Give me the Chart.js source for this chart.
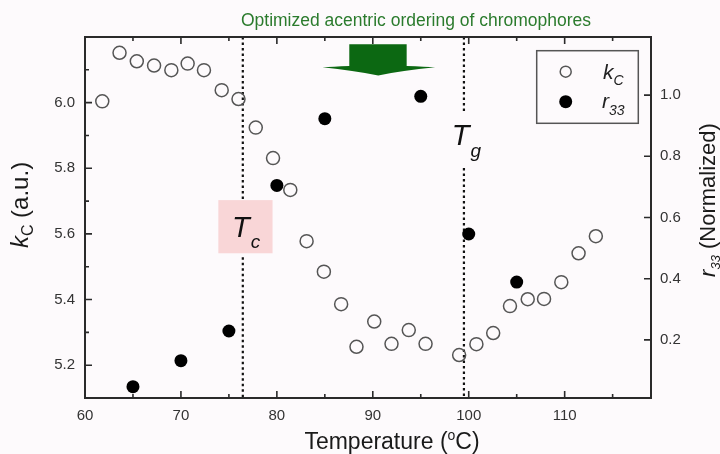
<!DOCTYPE html>
<html>
<head>
<meta charset="utf-8">
<script src="https://cdn.jsdelivr.net/npm/chart.js@4"></script>
<style>
html,body{margin:0;padding:0;background:#fdfafc;}
#wrap{width:720px;height:454px;position:relative;}
</style>
</head>
<body>
<div id="wrap"><canvas id="c"></canvas></div>
<script>
// ---- data ----
const kcTemp = [61.8,63.6,65.4,67.2,69.0,70.7,72.4,74.25,76.0,77.8,79.6,81.4,83.1,84.9,86.7,88.3,90.15,91.95,93.75,95.5,99.0,100.8,102.55,104.3,106.15,107.85,109.65,111.45,113.25];
const kcValue = [6.004,6.152,6.126,6.113,6.099,6.119,6.099,6.038,6.011,5.924,5.831,5.734,5.578,5.485,5.386,5.256,5.333,5.265,5.307,5.265,5.231,5.264,5.298,5.380,5.401,5.402,5.453,5.541,5.593];
const r33Temp = [65,70,75,80,85,95,100,105];
const r33Value = [0.047,0.132,0.229,0.705,0.923,0.996,0.546,0.389];
const xMajorTicks = [60,70,80,90,100,110];
const xMinorTicks = [65,75,85,95,105,115];
const kMajorTicks = [5.2,5.4,5.6,5.8,6.0];
const kMinorTicks = [5.3,5.5,5.7,5.9,6.1];
const rMajorTicks = [0.2,0.4,0.6,0.8,1.0];
const Tc = 76.45, Tg = 99.5;
const titleText = 'Optimized acentric ordering of chromophores';

const FONT = '"Liberation Sans", Arial, sans-serif';

function drawSegs(ctx, segs, x, y, align){
  let w = 0;
  segs.forEach(s => { ctx.font = s.f; s.w = ctx.measureText(s.t).width + (s.gap||0); w += s.w; });
  let cx = align === 'center' ? x - w/2 : (align === 'right' ? x - w : x);
  ctx.textAlign = 'left'; ctx.textBaseline = 'alphabetic';
  segs.forEach(s => { ctx.font = s.f; ctx.fillText(s.t, cx, y + (s.dy||0)); cx += s.w; });
}

const decor = {
  id: 'decor',
  beforeDraw(chart){
    const ctx = chart.ctx;
    ctx.save();
    ctx.fillStyle = '#fdfafc';
    ctx.fillRect(0,0,chart.width,chart.height);
    ctx.restore();
  },
  beforeDatasetsDraw(chart){
    const {ctx, chartArea:a, scales} = chart;
    const X = scales.x, Y = scales.y;
    ctx.save();
    // dotted lines
    ctx.strokeStyle = '#111'; ctx.lineWidth = 2.2; ctx.setLineDash([2.5,3]);
    const xc = X.getPixelForValue(Tc), xg = X.getPixelForValue(Tg);
    const boxTop = Y.getPixelForValue(5.703), boxBot = Y.getPixelForValue(5.541);
    ctx.beginPath();
    ctx.moveTo(xc, a.top); ctx.lineTo(xc, boxTop+2);
    ctx.moveTo(xc, boxBot+4); ctx.lineTo(xc, a.bottom);
    ctx.moveTo(xg, a.top); ctx.lineTo(xg, Y.getPixelForValue(5.971));
    ctx.moveTo(xg, Y.getPixelForValue(5.801)); ctx.lineTo(xg, a.bottom);
    ctx.stroke();
    ctx.setLineDash([]);
    // Tc box
    const bx0 = X.getPixelForValue(73.9), bx1 = X.getPixelForValue(79.55);
    ctx.fillStyle = '#f9d6d7';
    ctx.fillRect(bx0, boxTop, bx1-bx0, boxBot-boxTop);
    ctx.fillStyle = '#111';
    drawSegs(ctx, [{t:'T', f:'italic 29px '+FONT, gap:1},{t:'c', f:'italic 19px '+FONT, dy:11}], X.getPixelForValue(76.8), Y.getPixelForValue(5.592), 'center');
    drawSegs(ctx, [{t:'T', f:'italic 29px '+FONT, gap:1},{t:'g', f:'italic 19px '+FONT, dy:12}], X.getPixelForValue(99.75), Y.getPixelForValue(5.871), 'center');
    // arrow
    ctx.fillStyle = '#0c6812';
    ctx.beginPath();
    ctx.moveTo(X.getPixelForValue(87.55), Y.getPixelForValue(6.178));
    ctx.lineTo(X.getPixelForValue(93.53), Y.getPixelForValue(6.178));
    ctx.lineTo(X.getPixelForValue(93.53), Y.getPixelForValue(6.112));
    ctx.quadraticCurveTo(X.getPixelForValue(95.5), Y.getPixelForValue(6.110), X.getPixelForValue(96.5), Y.getPixelForValue(6.108));
    ctx.quadraticCurveTo(X.getPixelForValue(93.0), Y.getPixelForValue(6.098), X.getPixelForValue(90.57), Y.getPixelForValue(6.083));
    ctx.quadraticCurveTo(X.getPixelForValue(88.0), Y.getPixelForValue(6.098), X.getPixelForValue(84.75), Y.getPixelForValue(6.108));
    ctx.quadraticCurveTo(X.getPixelForValue(85.8), Y.getPixelForValue(6.110), X.getPixelForValue(87.55), Y.getPixelForValue(6.112));
    ctx.closePath();
    ctx.fill();
    ctx.restore();
  },
  afterDraw(chart){
    const {ctx, chartArea:a, scales} = chart;
    const X = scales.x, Y = scales.y, Y2 = scales.y2;
    ctx.save();
    // frame
    ctx.strokeStyle = '#2a2a2a'; ctx.lineWidth = 2;
    ctx.strokeRect(a.left, a.top, a.right-a.left, a.bottom-a.top);
    // inward ticks
    ctx.lineWidth = 1.6;
    ctx.beginPath();
    const tickX = (vals, len) => vals.forEach(v => { const p = X.getPixelForValue(v);
      ctx.moveTo(p, a.bottom); ctx.lineTo(p, a.bottom-len);
      ctx.moveTo(p, a.top); ctx.lineTo(p, a.top+len); });
    tickX(xMajorTicks.filter(v=>v>60), 7); tickX(xMinorTicks, 4);
    kMajorTicks.forEach(v => { const p = Y.getPixelForValue(v); ctx.moveTo(a.left,p); ctx.lineTo(a.left+7,p); });
    kMinorTicks.forEach(v => { const p = Y.getPixelForValue(v); ctx.moveTo(a.left,p); ctx.lineTo(a.left+4,p); });
    rMajorTicks.forEach(v => { const p = Y2.getPixelForValue(v); ctx.moveTo(a.right,p); ctx.lineTo(a.right-7,p); });
    ctx.stroke();
    // title
    ctx.fillStyle = '#2b7b2d';
    ctx.font = '17.5px ' + FONT; ctx.textAlign = 'center'; ctx.textBaseline = 'alphabetic';
    ctx.fillText(titleText, 416, 26);
    // bottom axis title
    ctx.fillStyle = '#1a1a1a';
    drawSegs(ctx, [{t:'Temperature (', f:'23px '+FONT},{t:'o', f:'14px '+FONT, dy:-9},{t:'C)', f:'23px '+FONT}], 392, 449, 'center');
    // left axis title
    ctx.save();
    ctx.translate(28, 205); ctx.rotate(-Math.PI/2);
    drawSegs(ctx, [{t:'k', f:'italic 24px '+FONT},{t:'C', f:'16px '+FONT, dy:5},{t:' (a.u.)', f:'24px '+FONT}], 0, 0, 'center');
    ctx.restore();
    // right axis title
    ctx.save();
    ctx.translate(715, 200); ctx.rotate(-Math.PI/2);
    drawSegs(ctx, [{t:'r', f:'italic 22px '+FONT},{t:'33', f:'italic 13px '+FONT, dy:5},{t:' (Normalized)', f:'22px '+FONT}], 0, 0, 'center');
    ctx.restore();
    // legend
    ctx.strokeStyle = '#555'; ctx.lineWidth = 1.5;
    ctx.strokeRect(536.7, 50.7, 101.6, 72.6);
    ctx.beginPath(); ctx.arc(565.7, 71.7, 5.5, 0, Math.PI*2); ctx.stroke();
    ctx.fillStyle = '#000';
    ctx.beginPath(); ctx.arc(565.7, 101.7, 6.5, 0, Math.PI*2); ctx.fill();
    ctx.fillStyle = '#222';
    drawSegs(ctx, [{t:'k', f:'italic 21px '+FONT},{t:'C', f:'italic 14px '+FONT, dy:6}], 603, 79, 'left');
    drawSegs(ctx, [{t:'r', f:'italic 21px '+FONT},{t:'33', f:'italic 14px '+FONT, dy:7}], 602, 108, 'left');
    ctx.restore();
  }
};

const tickFont = {family: FONT, size: 15};
new Chart(document.getElementById('c'), {
  type: 'scatter',
  data: {
    datasets: [
      { label: 'kC', data: kcTemp.map((t,i)=>({x:t, y:kcValue[i]})), yAxisID: 'y',
        pointStyle: 'circle', pointRadius: 6.5, pointHoverRadius: 6.5, borderColor: '#555', borderWidth: 1.5, backgroundColor: 'rgba(0,0,0,0)' },
      { label: 'r33', data: r33Temp.map((t,i)=>({x:t, y:r33Value[i]})), yAxisID: 'y2',
        pointStyle: 'circle', pointRadius: 6.5, pointHoverRadius: 6.5, borderColor: '#000', borderWidth: 0, backgroundColor: '#000' }
    ]
  },
  options: {
    responsive: true, maintainAspectRatio: false, animation: false,
    layout: { padding: { top: 37, left: 0, right: 0, bottom: 0 } },
    plugins: { legend: { display: false }, title: { display: false }, tooltip: { enabled: false } },
    scales: {
      x: { type: 'linear', position: 'bottom', min: 60, max: 119,
        grid: { display: false, drawTicks: false }, border: { display: false },
        ticks: { font: tickFont, color: '#333', padding: 9, maxRotation: 0 },
        afterBuildTicks: s => { s.ticks = xMajorTicks.map(v => ({value: v})); },
        afterFit: s => { s.height = 56; } },
      y: { type: 'linear', position: 'left', min: 5.1, max: 6.2,
        grid: { display: false, drawTicks: false }, border: { display: false },
        ticks: { font: tickFont, color: '#333', padding: 10, callback: v => Number(v).toFixed(1) },
        afterBuildTicks: s => { s.ticks = kMajorTicks.map(v => ({value: v})); },
        afterFit: s => { s.width = 85; } },
      y2: { type: 'linear', position: 'right', min: 0.01, max: 1.19,
        grid: { display: false, drawTicks: false }, border: { display: false },
        ticks: { font: tickFont, color: '#333', padding: 9, callback: v => Number(v).toFixed(1) },
        afterBuildTicks: s => { s.ticks = rMajorTicks.map(v => ({value: v})); },
        afterFit: s => { s.width = 69; } }
    }
  },
  plugins: [decor]
});
</script>
</body>
</html>
